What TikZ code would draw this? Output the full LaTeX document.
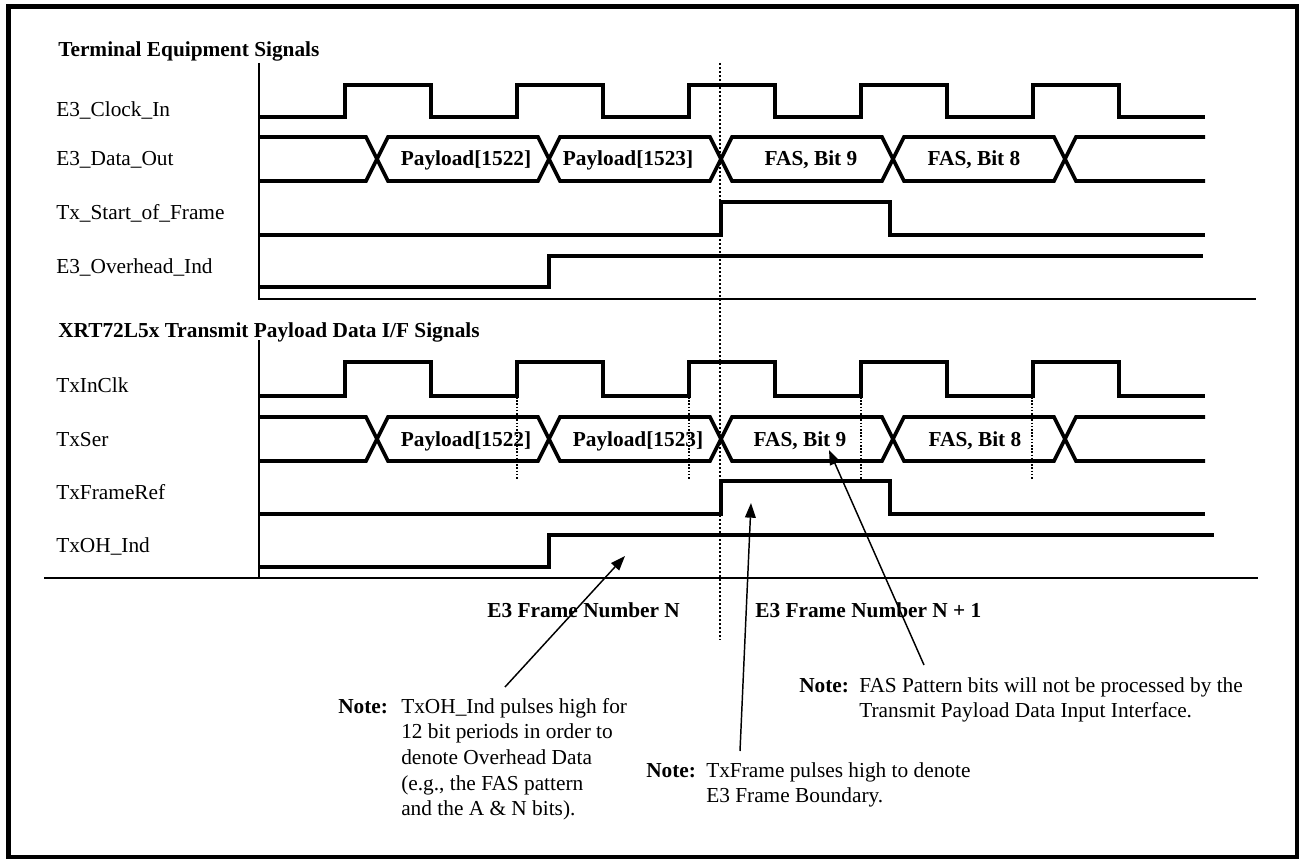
\documentclass[tikz,border=0pt]{standalone}
\usepackage{fontspec}
\setmainfont{Liberation Serif}
\usetikzlibrary{arrows.meta}
\begin{document}
\begin{tikzpicture}[x=0.75pt,y=-0.75pt,
  wave/.style={line width=2.8pt, line join=miter},
  axisline/.style={line width=1.2pt},
  lbl/.style={anchor=base west, inner sep=0pt, font=\fontsize{16}{19}\selectfont},
  ttl/.style={anchor=base west, inner sep=0pt, font=\fontsize{16}{19}\selectfont\bfseries},
  dlbl/.style={anchor=base, inner sep=0pt, font=\fontsize{16}{19}\selectfont\bfseries},
  notetext/.style={anchor=base west, inner sep=0pt, font=\fontsize{16}{19.3}\selectfont},
  ptr/.style={line width=1.1pt, -{Triangle[length=11pt,width=8pt]}},
  vdot/.style={line width=1.3pt, dash pattern=on 1.5pt off 1.5pt},
  sdot/.style={line width=0.8pt, dash pattern=on 1.2pt off 1.2pt}]
\useasboundingbox (0,0) rectangle (1299,859);
\fill[white] (0,0) rectangle (1299,859);
\draw[line width=3.75pt] (8.5,6.5) rectangle (1297.5,857.5);

% ---------- titles and labels ----------
\node[ttl] (t1) at (58,57) {Terminal Equipment Signals};
\node[lbl] (l1) at (56,117) {E3\_Clock\_In};
\node[lbl] (l2) at (56,166) {E3\_Data\_Out};
\node[lbl] (l3) at (56,220) {Tx\_Start\_of\_Frame};
\node[lbl] (l4) at (56,274) {E3\_Overhead\_Ind};

\node[ttl] (t2) at (58,337) {XRT72L5x Transmit Payload Data I/F Signals};
\node[lbl] (l5) at (56,392) {TxInClk};
\node[lbl] (l6) at (56,446) {TxSer};
\node[lbl] (l7) at (56,499) {TxFrameRef};
\node[lbl] (l8) at (56,552) {TxOH\_Ind};

% ---------- axes ----------
\draw[axisline] (259,63) -- (259,299) -- (1256,299);
\draw[axisline] (259,340) -- (259,578);
\draw[axisline] (44,578) -- (1258,578);

% ---------- frame boundary dotted line ----------
\draw[vdot] (720,63) -- (720,640);
\foreach \xx in {517,689,861,1032} \draw[sdot] (\xx,397) -- (\xx,479);

% ---------- upper waveforms ----------
\draw[wave] (259,117) \foreach \k in {1,3,5,7,9} { -- ({259+\k*86},117) -- ({259+\k*86},85) -- ({259+(\k+1)*86},85) -- ({259+(\k+1)*86},117) } -- (1205,117);
\draw[wave] (259,137) -- (366,137) -- (388,181) -- (538,181) -- (560,137) -- (710,137) -- (732,181) -- (882,181) -- (904,137) -- (1054,137) -- (1076,181) -- (1205,181);
\draw[wave] (259,181) -- (366,181) -- (388,137) -- (538,137) -- (560,181) -- (710,181) -- (732,137) -- (882,137) -- (904,181) -- (1054,181) -- (1076,137) -- (1205,137);
\draw[wave] (259,235) -- (721,235) -- (721,202) -- (890,202) -- (890,235) -- (1205,235);
\draw[wave] (259,287) -- (549,287) -- (549,256) -- (1203,256);

\node[dlbl] (d1) at (466,166) {Payload[1522]};
\node[dlbl] (d2) at (628,166) {Payload[1523]};
\node[dlbl] (d3) at (811,166) {FAS, Bit 9};
\node[dlbl] (d4) at (974,166) {FAS, Bit 8};

% ---------- lower waveforms ----------
\draw[wave] (259,396) \foreach \k in {1,3,5,7,9} { -- ({259+\k*86},396) -- ({259+\k*86},362) -- ({259+(\k+1)*86},362) -- ({259+(\k+1)*86},396) } -- (1205,396);
\draw[wave] (259,417) -- (366,417) -- (388,461) -- (538,461) -- (560,417) -- (710,417) -- (732,461) -- (882,461) -- (904,417) -- (1054,417) -- (1076,461) -- (1205,461);
\draw[wave] (259,461) -- (366,461) -- (388,417) -- (538,417) -- (560,461) -- (710,461) -- (732,417) -- (882,417) -- (904,461) -- (1054,461) -- (1076,417) -- (1205,417);
\draw[wave] (259,514) -- (721,514) -- (721,481) -- (890,481) -- (890,514) -- (1205,514);
\draw[wave] (259,567) -- (549,567) -- (549,535) -- (1214,535);

\node[dlbl] (d5) at (466,446) {Payload[1522]};
\node[dlbl] (d6) at (638,446) {Payload[1523]};
\node[dlbl] (d7) at (800,446) {FAS, Bit 9};
\node[dlbl] (d8) at (975,446) {FAS, Bit 8};

% ---------- frame numbers ----------
\node[ttl] (fn) at (487,617) {E3 Frame Number N};
\node[ttl] (fn1) at (755,617) {E3 Frame Number N + 1};

% ---------- notes ----------
\node[ttl] (n1h) at (338,713) {Note:};
\node[notetext] (n1) at (401,713) {\begin{tabular}[t]{@{}l@{}}TxOH\_Ind pulses high for\\12 bit periods in order to\\denote Overhead Data\\(e.g., the FAS pattern\\and the A \& N bits).\end{tabular}};
\node[ttl] (n2h) at (646,777) {Note:};
\node[notetext] (n2) at (706,777) {\begin{tabular}[t]{@{}l@{}}TxFrame pulses high to denote\\E3 Frame Boundary.\end{tabular}};
\node[ttl] (n3h) at (799,692) {Note:};
\node[notetext] (n3) at (859,692) {\begin{tabular}[t]{@{}l@{}}FAS Pattern bits will not be processed by the\\Transmit Payload Data Input Interface.\end{tabular}};

% ---------- pointers ----------
\coordinate (p1s) at (505,687);
\coordinate (p1t) at (625,556);
\coordinate (p2s) at (740,751);
\coordinate (p2t) at (751,503);
\coordinate (p3s) at (924,665);
\coordinate (p3t) at (829,450);
\draw[ptr] (p1s) -- (p1t);
\draw[ptr] (p2s) -- (p2t);
\draw[ptr] (p3s) -- (p3t);
\end{tikzpicture}
\end{document}
